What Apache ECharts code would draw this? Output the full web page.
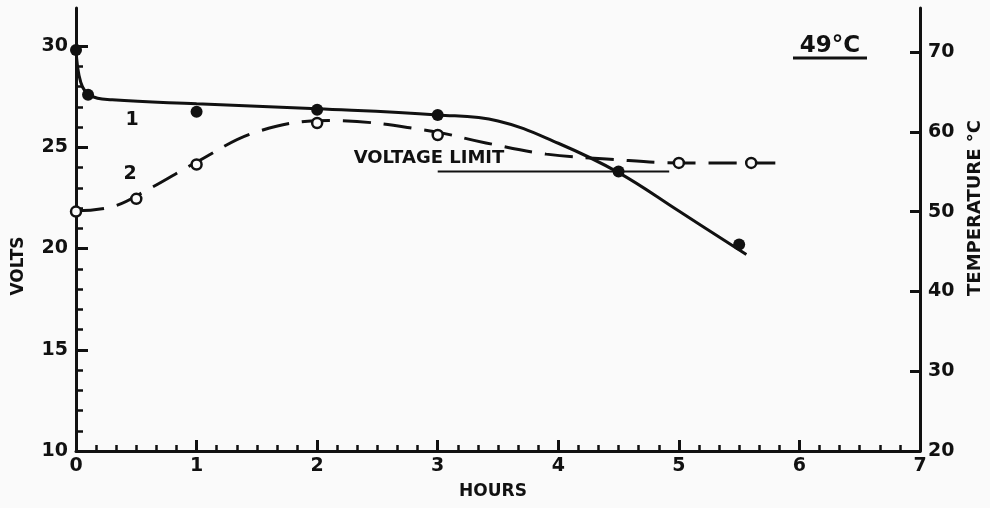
<!DOCTYPE html>
<html>
<head>
<meta charset="utf-8">
<script src="https://cdn.jsdelivr.net/npm/echarts@6/dist/echarts.min.js"></script>
<style>
  html, body { margin: 0; padding: 0; background: #fafafa; }
  #chart { width: 990px; height: 508px; }
</style>
</head>
<body>
<div id="chart"></div>
<script>
// ---- Data ----
// Curve 1: battery voltage (solid line, filled points), left axis
const voltCurveHours  = [0, 0.04, 0.12, 0.3, 1, 2, 3, 3.5, 4.0, 4.5, 5, 5.56];
const voltCurveValues = [29.9, 28.2, 27.55, 27.35, 27.15, 26.9, 26.6, 26.3, 25.2, 23.75, 21.85, 19.7];
const voltPointHours  = [0, 0.1, 1, 2, 3, 4.5, 5.5];
const voltPointValues = [29.8, 27.6, 26.75, 26.85, 26.6, 23.8, 20.2];

// Curve 2: temperature (dashed line, open points), right axis
const tempCurveHours  = [0, 0.3, 0.6, 1, 1.5, 2.1, 2.9, 3.4, 3.9, 4.4, 5, 5.8];
const tempCurveValues = [50.1, 50.6, 52.8, 56.2, 60, 61.4, 60.2, 58.6, 57.2, 56.6, 56.1, 56.1];
const tempPointHours  = [0, 0.5, 1, 2, 3, 5, 5.6];
const tempPointValues = [50, 51.6, 55.9, 61.1, 59.6, 56.1, 56.1];

// Voltage limit line
const limitHours  = [3.0, 4.92];
const limitValues = [23.8, 23.8];

// Tick labels
const hourTickLabels = [0, 1, 2, 3, 4, 5, 6, 7];
const voltTickLabels = [10, 15, 20, 25, 30];
const voltMinorTicks = [10, 11, 12, 13, 14, 15, 16, 17, 18, 19, 20, 21, 22, 23, 24, 25, 26, 27, 28, 29, 30];
const tempTickLabels = [20, 30, 40, 50, 60, 70];

// ---- Chart ----
const pair = (xs, ys) => xs.map((x, i) => [x, ys[i]]);
const FONT = 'DejaVu Sans';
const INK = '#111';

const chart = echarts.init(document.getElementById('chart'), null, { renderer: 'canvas' });

const labelStyle = { color: INK, fontFamily: FONT, fontWeight: 'bold', fontSize: 19 };

chart.setOption({
  backgroundColor: '#fafafa',
  animation: false,
  grid: { left: 76, right: 70, top: 8, bottom: 57 },
  xAxis: {
    type: 'value', min: 0, max: 7, interval: 1,
    axisLine: { show: true, lineStyle: { color: INK, width: 3 } },
    axisTick: { show: true, inside: true, length: 11, lineStyle: { color: INK, width: 3 } },
    minorTick: { show: true, splitNumber: 6, length: 6, lineStyle: { color: INK, width: 2.5 } },
    splitLine: { show: false },
    axisLabel: Object.assign({ margin: 6, customValues: hourTickLabels }, labelStyle)
  },
  yAxis: [
    {
      type: 'value', position: 'left', min: 10, max: 31.88,
      axisLine: { show: true, lineStyle: { color: INK, width: 3 } },
      axisTick: { show: true, inside: true, length: 12, customValues: voltTickLabels, lineStyle: { color: INK, width: 3 } },
      splitLine: { show: false },
      axisLabel: Object.assign({ margin: 8, customValues: voltTickLabels }, labelStyle)
    },
    {
      type: 'value', position: 'right', min: 20, max: 75.51,
      axisLine: { show: true, lineStyle: { color: INK, width: 3 } },
      axisTick: { show: true, inside: true, length: 10, customValues: tempTickLabels, lineStyle: { color: INK, width: 3 } },
      splitLine: { show: false },
      axisLabel: Object.assign({ margin: 8, customValues: tempTickLabels }, labelStyle)
    },
    {
      type: 'value', position: 'left', min: 10, max: 31.88,
      axisLine: { show: false },
      axisTick: { show: true, inside: true, length: 7, customValues: voltMinorTicks, lineStyle: { color: INK, width: 2.5 } },
      splitLine: { show: false },
      axisLabel: { show: false }
    }
  ],
  series: [
    {
      name: 'Volts curve', type: 'line', yAxisIndex: 0,
      data: pair(voltCurveHours, voltCurveValues),
      smooth: 0.4, showSymbol: false, symbol: 'none',
      lineStyle: { color: INK, width: 3 }, z: 3
    },
    {
      name: 'Volts points', type: 'scatter', yAxisIndex: 0,
      data: pair(voltPointHours, voltPointValues),
      symbol: 'circle', symbolSize: 12,
      itemStyle: { color: INK, opacity: 1 }, z: 5
    },
    {
      name: 'Temperature curve', type: 'line', yAxisIndex: 1,
      data: pair(tempCurveHours, tempCurveValues),
      smooth: 0.4, showSymbol: false, symbol: 'none',
      lineStyle: { color: INK, width: 3, type: [28, 13] }, z: 3
    },
    {
      name: 'Temperature points', type: 'scatter', yAxisIndex: 1,
      data: pair(tempPointHours, tempPointValues),
      symbol: 'circle', symbolSize: 10,
      itemStyle: { color: '#fafafa', borderColor: INK, borderWidth: 2.5, opacity: 1 }, z: 6
    },
    {
      name: 'Voltage limit', type: 'line', yAxisIndex: 0,
      data: pair(limitHours, limitValues),
      showSymbol: false, symbol: 'none',
      lineStyle: { color: INK, width: 2 }, z: 2
    }
  ],
  graphic: [
    { type: 'text', x: 19, y: 266, rotation: Math.PI / 2,
      style: { text: 'VOLTS', fill: INK, font: 'bold 17px "DejaVu Sans"', align: 'center', verticalAlign: 'middle' } },
    { type: 'text', x: 975, y: 208, rotation: Math.PI / 2,
      style: { text: 'TEMPERATURE °C', fill: INK, font: 'bold 18px "DejaVu Sans"', align: 'center', verticalAlign: 'middle' } },
    { type: 'text', x: 493, y: 492,
      style: { text: 'HOURS', fill: INK, font: 'bold 17px "DejaVu Sans"', align: 'center', verticalAlign: 'middle' } },
    { type: 'text', x: 830, y: 46,
      style: { text: '49°C', fill: INK, font: 'bold 23px "DejaVu Sans"', align: 'center', verticalAlign: 'middle' } },
    { type: 'line', shape: { x1: 793, y1: 58, x2: 867, y2: 58 }, style: { stroke: INK, lineWidth: 3 } },
    { type: 'text', x: 429, y: 158,
      style: { text: 'VOLTAGE LIMIT', fill: INK, font: 'bold 18px "DejaVu Sans"', align: 'center', verticalAlign: 'middle' } },
    { type: 'text', x: 132, y: 120,
      style: { text: '1', fill: INK, font: 'bold 19px "DejaVu Sans"', align: 'center', verticalAlign: 'middle' } },
    { type: 'text', x: 130, y: 174,
      style: { text: '2', fill: INK, font: 'bold 19px "DejaVu Sans"', align: 'center', verticalAlign: 'middle' } }
  ]
});
</script>
</body>
</html>
